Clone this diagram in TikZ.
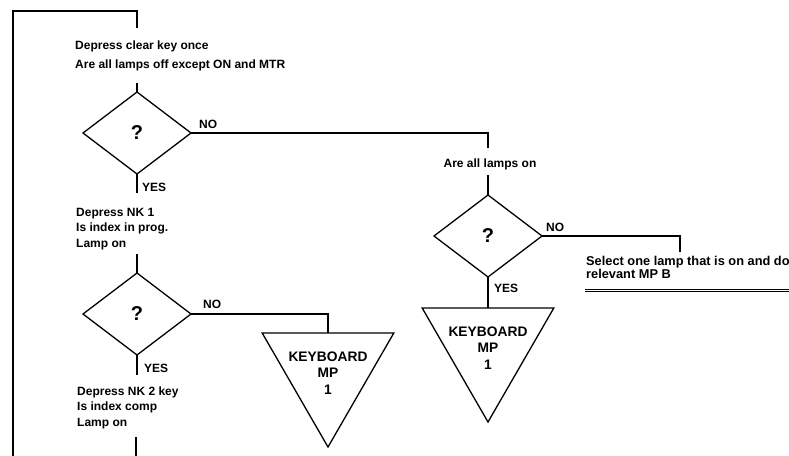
\documentclass[tikz,border=0pt]{standalone}
\usepackage{fontspec}
\setmainfont{Liberation Sans}
\usetikzlibrary{shapes.geometric}

\begin{document}
\begin{tikzpicture}[x=1pt,y=-1pt,
  flow/.style={line width=1.3pt,line cap=butt},
  decision/.style={diamond,draw,line width=1.3pt,minimum width=108pt,minimum height=82pt,
    inner sep=0pt,outer sep=0pt,font=\fontsize{20}{24}\selectfont\bfseries},
  offpage/.style={regular polygon,regular polygon sides=3,regular polygon rotate=180,
    draw,line width=1.3pt,minimum size=152pt,inner sep=0pt,outer sep=0pt},
  txt/.style={anchor=base west,align=left,inner sep=0pt,
    font=\fontsize{12}{15.5}\selectfont\bfseries},
  tag/.style={anchor=base west,inner sep=0pt,font=\fontsize{12}{14}\selectfont\bfseries},
  kbdlabel/.style={align=center,inner sep=0pt,font=\fontsize{13.8}{16.5}\selectfont\bfseries}]

  \fill[white] (0,0) rectangle (789,455);
  \useasboundingbox (0,0) rectangle (789,455);

  % decisions
  \node[decision] (d1) at (137,133) {?};
  \node[decision] (d2) at (488,236) {?};
  \node[decision] (d3) at (137,314) {?};

  % off-page connectors
  \node[offpage] (t1) at (328,371) {};
  \node[kbdlabel] (t1txt) at (328,373) {KEYBOARD\\MP\\1};
  \node[offpage] (t2) at (488,346) {};
  \node[kbdlabel] (t2txt) at (488,348) {KEYBOARD\\MP\\1};

  % step texts (anchored at the baseline of their last line)
  \node[txt] (s1) at (75,68) {Depress clear key once\\[3.5pt]Are all lamps off except ON and MTR};
  \node[anchor=base,inner sep=0pt,font=\fontsize{12}{14}\selectfont\bfseries] (s2) at (490,167) {Are all lamps on};
  \node[txt] (s3) at (76,247) {Depress NK 1\\Is index in prog.\\Lamp on};
  \node[txt] (s4) at (77,426) {Depress NK 2 key\\Is index comp\\Lamp on};
  \node[txt,font=\fontsize{12.8}{12.5}\selectfont\bfseries] (s5) at (586,278) {Select one lamp that is on and do\\relevant MP B};

  % branch labels
  \node[tag] (n1) at (199,128) {NO};
  \node[tag] (n2) at (546,231) {NO};
  \node[tag] (n3) at (203,308) {NO};
  \node[tag] (y1) at (142,191) {YES};
  \node[tag] (y2) at (494,292) {YES};
  \node[tag] (y3) at (144,372) {YES};

  % free line ends
  \coordinate (loopBot) at (13,458);
  \coordinate (loopTL) at (13,11);
  \coordinate (loopTR) at (137,11);
  \coordinate (loopEnd) at (137,28);
  \coordinate (in1) at (137,83);
  \coordinate (out1) at (488,148);
  \coordinate (in2) at (488,175);
  \coordinate (out2) at (680,252);
  \coordinate (yes1) at (137,193);
  \coordinate (in3) at (137,254);
  \coordinate (yes3) at (137,375);
  \coordinate (in4) at (136,437);
  \coordinate (in4b) at (136,458);
  \coordinate (ruleL) at (585,290);
  \coordinate (ruleR) at (792,290);

  % connectors
  \draw[flow] (loopBot) -- (loopTL) -- (loopTR) -- (loopEnd);
  \draw[flow] (in1) -- (d1.north);
  \draw[flow] (d1.east) -| (out1);
  \draw[flow] (in2) -- (d2.north);
  \draw[flow] (d2.east) -| (out2);
  \draw[flow] (d2.south) -- (t2.north);
  \draw[flow] (d1.south) -- (yes1);
  \draw[flow] (in3) -- (d3.north);
  \draw[flow] (d3.east) -| (t1.north);
  \draw[flow] (d3.south) -- (yes3);
  \draw[flow] (in4) -- (in4b);
  \draw[line width=1pt,double distance=1pt] (ruleL) -- (ruleR);
\end{tikzpicture}
\end{document}
